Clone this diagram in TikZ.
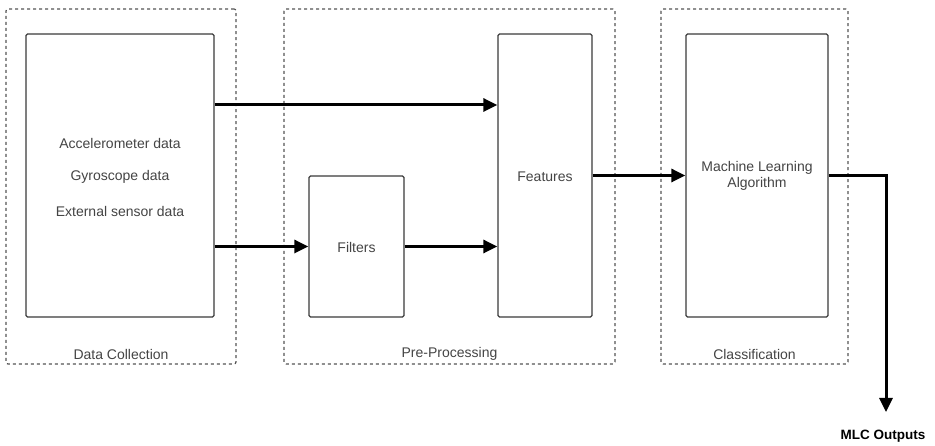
\documentclass[tikz,border=0pt]{standalone}
\usepackage{fontspec}
\setmainfont{Liberation Sans}
\usetikzlibrary{arrows.meta,calc}
\definecolor{txt}{HTML}{444444}
\definecolor{edge}{HTML}{3A3A3A}
\definecolor{dashc}{HTML}{555555}
\tikzset{
  grp/.style={draw=dashc, line width=1.2pt, dash pattern=on 3pt off 3pt, rounded corners=2pt, inner sep=0pt},
  blk/.style={draw=edge, line width=1.3pt, rounded corners=1.5pt, fill=white, inner sep=0pt},
  lbl/.style={text=txt, font=\fontsize{14}{16}\selectfont, inner sep=0pt, align=center},
  arr/.style={draw=black, line width=3pt, -{Triangle[length=14pt,width=13pt]}},
}
\begin{document}
\begin{tikzpicture}[x=1pt,y=-1pt]
\useasboundingbox (0,0) rectangle (935,446);
% group boxes
\node[grp, minimum width=230pt, minimum height=355pt] (gdc) at (121,186.5) {};
\node[grp, minimum width=331pt, minimum height=355pt] (gpp) at (449.5,186.5) {};
\node[grp, minimum width=187pt, minimum height=355pt] (gcl) at (754.5,186.5) {};
\node[lbl] (ldc) at (121,354) {Data Collection};
\node[lbl] (lpp) at (449.5,354) {Pre-Processing};
\node[lbl] (lcl) at (754.5,354) {Classification};
% blocks
\node[blk, minimum width=188pt, minimum height=283pt] (acc) at (120,175.5) {};
\node[blk, minimum width=95pt, minimum height=141pt] (filt) at (356.5,246.5) {};
\node[blk, minimum width=94pt, minimum height=283pt] (feat) at (545,175.5) {};
\node[blk, minimum width=142pt, minimum height=283pt] (mla) at (757,175.5) {};
% texts
\node[lbl] (t1) at (120,143) {Accelerometer data};
\node[lbl] (t2) at (120,177) {Gyroscope data};
\node[lbl] (t3) at (120,211) {External sensor data};
\node[lbl] (tfilt) at (356.5,247) {Filters};
\node[lbl] (tfeat) at (545,177) {Features};
\node[lbl] (tmla) at (757,176) {Machine Learning\\Algorithm};
\node[text=black, font=\fontsize{13.5}{16}\selectfont\bfseries, inner sep=0pt] (out) at (883,436) {MLC Outputs};
\coordinate (outtip) at (886,412);
% arrows
\draw[arr] ([yshift=70.5pt]acc.east) -- ([yshift=70.5pt]feat.west);
\draw[arr] (acc.east |- filt.west) -- (filt.west);
\draw[arr] (filt.east) -- (filt.east -| feat.west);
\draw[arr] (feat.east) -- (mla.west);
\draw[arr] (mla.east) -| (outtip);
\end{tikzpicture}
\end{document}
